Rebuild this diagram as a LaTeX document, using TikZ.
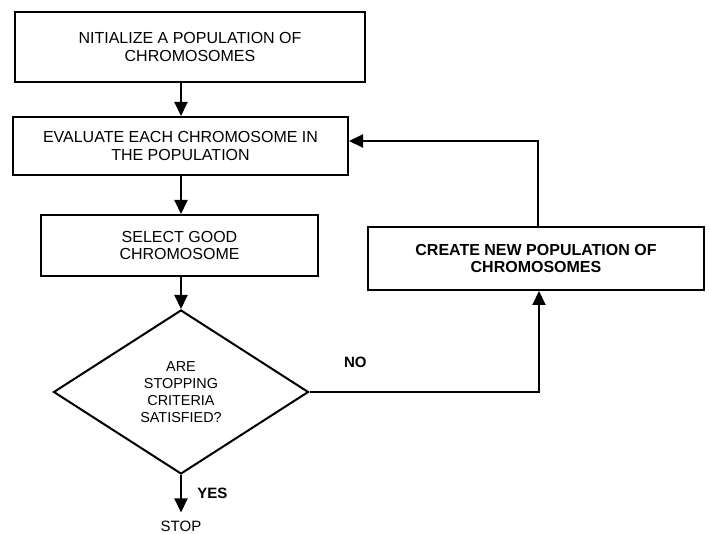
\documentclass[tikz,border=0pt]{standalone}
\usepackage{fontspec}
\setmainfont{Liberation Sans}
\usetikzlibrary{shapes.geometric,arrows.meta}

\begin{document}
\begin{tikzpicture}[x=1pt,y=-1pt,
  box/.style={draw,line width=2pt,align=center,inner sep=0pt,font=\fontsize{16}{17.8}\selectfont},
  ask/.style={draw,diamond,line width=2pt,align=center,inner sep=0pt,font=\fontsize{14.4}{16.9}\selectfont},
  lbl/.style={font=\fontsize{15}{17}\selectfont\bfseries},
  arr/.style={line width=2pt,-{Triangle[width=13pt,length=14pt]}}]
  \useasboundingbox (0,0) rectangle (710,534);
  \node[box,minimum width=350pt,minimum height=70pt] (init) at (190,47) {NITIALIZE A POPULATION OF\\CHROMOSOMES};
  \node[box,minimum width=335pt,minimum height=58pt] (eval) at (180.5,146) {EVALUATE EACH CHROMOSOME IN\\THE POPULATION};
  \node[box,minimum width=277pt,minimum height=61pt] (select) at (179.5,245.5) {SELECT GOOD\\CHROMOSOME};
  \node[ask,minimum width=255pt,minimum height=164pt] (check) at (181,392) {ARE\\STOPPING\\CRITERIA\\SATISFIED?};
  \node[box,minimum width=336pt,minimum height=63pt,font=\fontsize{16}{17.8}\selectfont\bfseries] (create) at (536,258.5) {CREATE NEW POPULATION OF\\CHROMOSOMES};
  \node[inner sep=0pt,font=\fontsize{15}{17}\selectfont] (stop) at (181,526) {STOP};
  \draw[arr] (init.south -| check) -- (eval.north -| check);
  \draw[arr] (eval.south -| check) -- (select.north -| check);
  \draw[arr] (select.south -| check) -- (check.north);
  \draw[arr] (check.east) -| node[lbl,pos=0.1,above=20pt] {NO} ([xshift=3pt]create.south);
  \draw[arr] ([xshift=2pt]create.north) |- ([yshift=5pt]eval.east);
  \draw[arr,shorten >=8pt] (check.south) -- node[lbl,pos=0.4,right=12pt] {YES} (stop.north);
\end{tikzpicture}
\end{document}
